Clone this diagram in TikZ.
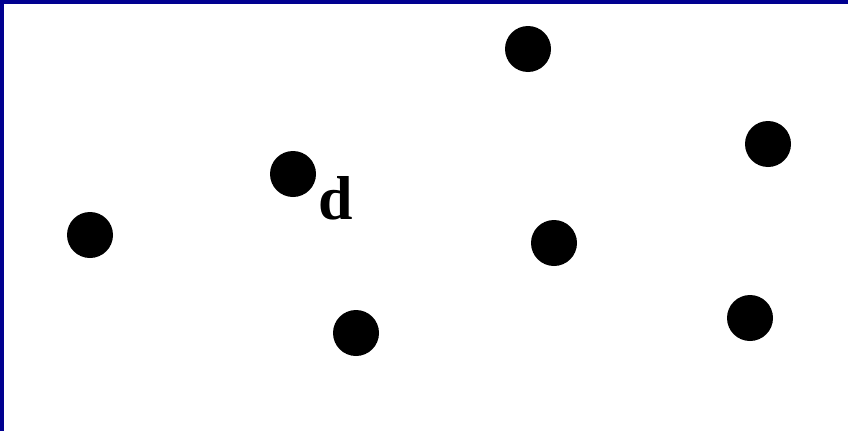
\documentclass[tikz,border=0pt]{standalone}
\usepackage{fontspec}
\setmainfont{Liberation Serif}
\definecolor{frameblue}{HTML}{000090}
\begin{document}
\begin{tikzpicture}[x=1pt,y=-1pt,
  dot/.style={circle,fill=black,minimum size=46pt,inner sep=0pt},
  lbl/.style={font=\fontsize{62}{62}\selectfont\bfseries,inner sep=0pt,anchor=base west}]
\useasboundingbox (0,0) rectangle (848,431);
\fill[white] (0,0) rectangle (848,431);
\fill[frameblue] (0,0) rectangle (848,4);
\fill[frameblue] (0,0) rectangle (4,431);
\node[dot] (p1) at (528,49) {};
\node[dot] (p2) at (768,144) {};
\node[dot] (p3) at (293,174) {};
\node[dot] (p4) at (90,235) {};
\node[dot] (p5) at (554,243) {};
\node[dot] (p6) at (356,333) {};
\node[dot] (p7) at (750,318) {};
\node[lbl] (d) at (318,219) {d};
\end{tikzpicture}
\end{document}
